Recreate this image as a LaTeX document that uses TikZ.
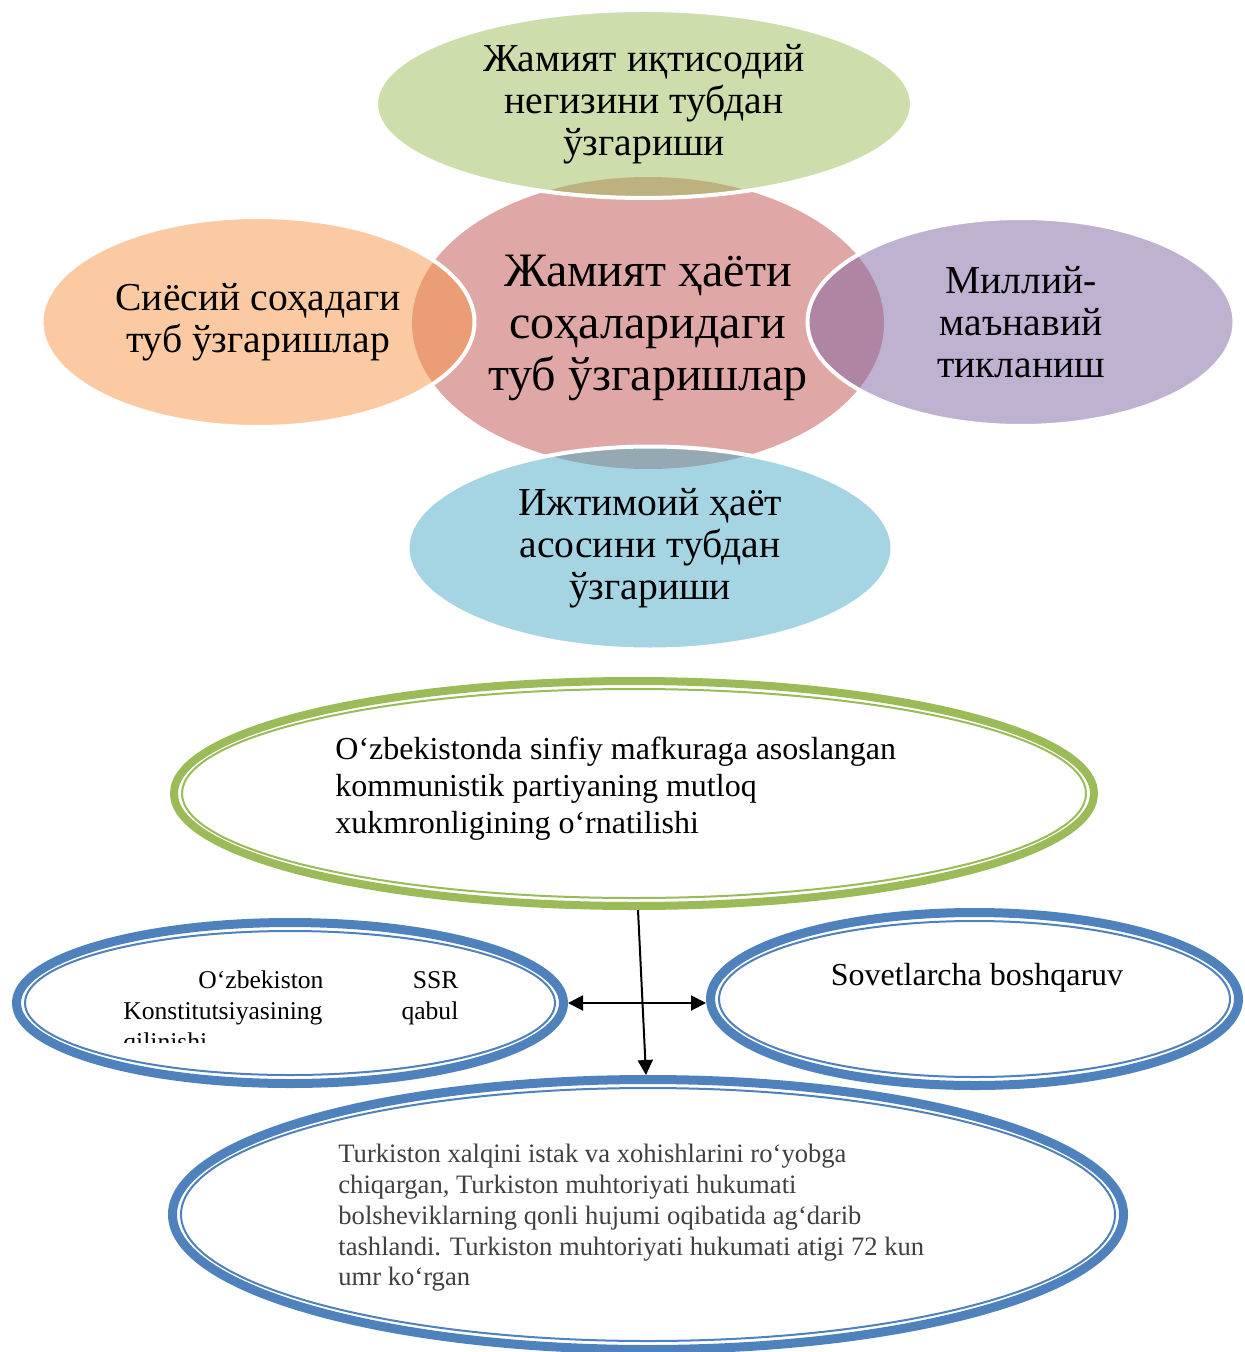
\documentclass[tikz,border=0pt]{standalone}
\usepackage{fontspec}
\setmainfont{Liberation Serif}
\usepackage{tikz}
\usetikzlibrary{shapes.geometric, arrows.meta}
\definecolor{vred}{HTML}{C0504D}
\definecolor{vgreen}{HTML}{9BBB59}
\definecolor{vorange}{HTML}{F79646}
\definecolor{vpurple}{HTML}{8064A2}
\definecolor{vaqua}{HTML}{4BACC6}
\definecolor{vblue}{HTML}{4F81BD}
\tikzset{
venn/.style={ellipse, inner sep=0pt, align=center, fill opacity=0.5, text opacity=1, font=\fontsize{19.8}{21}\selectfont}, % the soft overlapping ellipses
petal/.style={venn, draw=white, draw opacity=1, line width=2pt}, % outer ellipses get a white rim
ring/.style={ellipse, inner sep=0pt, fill=white, line width=#1}, % thick outer band of a framed ellipse
inring/.style={line width=1pt}, % thin inner line of a framed ellipse
arrow/.style={line width=1pt, >={Triangle[length=7.5pt, width=7.5pt]}}, % black connectors
}

\begin{document}
\begin{tikzpicture}[x=0.5pt, y=-0.5pt]
\useasboundingbox (0,0) rectangle (1244,1352);

\node[venn, fill=vred, minimum width=236pt, minimum height=146pt] at (648, 323) (hayot) {};
\node[petal, fill=vgreen, minimum width=268pt, minimum height=94pt] at (644, 104) (iqtisod) {Жамият иқтисодий\\негизини тубдан\\ўзгариши};
\node[petal, fill=vorange, minimum width=216.5pt, minimum height=105pt] at (258, 322) (siyosat) {Сиёсий соҳадаги\\туб ўзгаришлар};
\node[petal, fill=vpurple, minimum width=213.5pt, minimum height=104pt] at (1021, 322) (manaviy) {Миллий-\\маънавий\\тикланиш};
\node[petal, fill=vaqua, minimum width=242.5pt, minimum height=101.5pt] at (650, 548) (ijtimoiy) {Ижтимоий ҳаёт\\асосини тубдан\\ўзгариши};
\node[inner sep=0pt, align=center, font=\fontsize{24}{25.8}\selectfont] at (648, 328) (hayottext) {Жамият ҳаёти\\соҳаларидаги\\туб ўзгаришлар};

\node[ring=4pt, draw=vgreen, minimum width=460pt, minimum height=112.5pt] at (634, 793.5) (partiya) {};
\draw[inring, vgreen] (partiya.center) ellipse (226pt and 52.25pt);
\node[anchor=west, inner sep=0pt, align=left, font=\fontsize{16}{18.5}\selectfont] at (335, 789) (partiyatext) {O‘zbekistonda sinfiy mafkuraga asoslangan\\kommunistik partiyaning mutloq\\xukmronligining o‘rnatilishi};

\node[ring=4.5pt, draw=vblue, minimum width=273.5pt, minimum height=80.5pt] at (290, 1003) (konst) {};
\draw[inring, vblue] (konst.center) ellipse (132.5pt and 36pt);
\begin{scope}
\clip (0, 918) rectangle (1244, 1042);
\node[anchor=north west, inner sep=0pt, text width=167.5pt, align=left, font=\fontsize{12.8}{15.5}\selectfont] at (123, 970) (konsttext) {\hspace*{37.5pt}O‘zbekiston\hfill SSR\\Konstitutsiyasining\hfill qabul\\qilinishi};
\end{scope}

\node[ring=4.5pt, draw=vblue, minimum width=264pt, minimum height=86.5pt] at (974.5, 999) (sovet) {};
\draw[inring, vblue] (sovet.center) ellipse (127.75pt and 39pt);
\node[inner sep=0pt, font=\fontsize{16}{18.5}\selectfont] at (977, 978) (sovettext) {Sovetlarcha boshqaruv};

\node[ring=4.5pt, draw=vblue, minimum width=475.5pt, minimum height=135pt] at (648, 1214.5) (muxtor) {};
\draw[inring, vblue] (muxtor.center) ellipse (233.5pt and 63.25pt);
\node[anchor=west, inner sep=0pt, align=left, text=black!75, font=\fontsize{13.3}{15.4}\selectfont] at (338, 1218) (muxtortext) {Turkiston xalqini istak va xohishlarini ro‘yobga\\chiqargan, Turkiston muhtoriyati hukumati\\bolsheviklarning qonli hujumi oqibatida ag‘darib\\tashlandi. Turkiston muhtoriyati hukumati atigi 72 kun\\umr ko‘rgan};

\draw[arrow, ->] ([xshift=2pt]partiya.south) -- ([xshift=-1pt]muxtor.north);
\draw[arrow, <->] (konst.east) -- (konst.east -| sovet.west);

\end{tikzpicture}
\end{document}
